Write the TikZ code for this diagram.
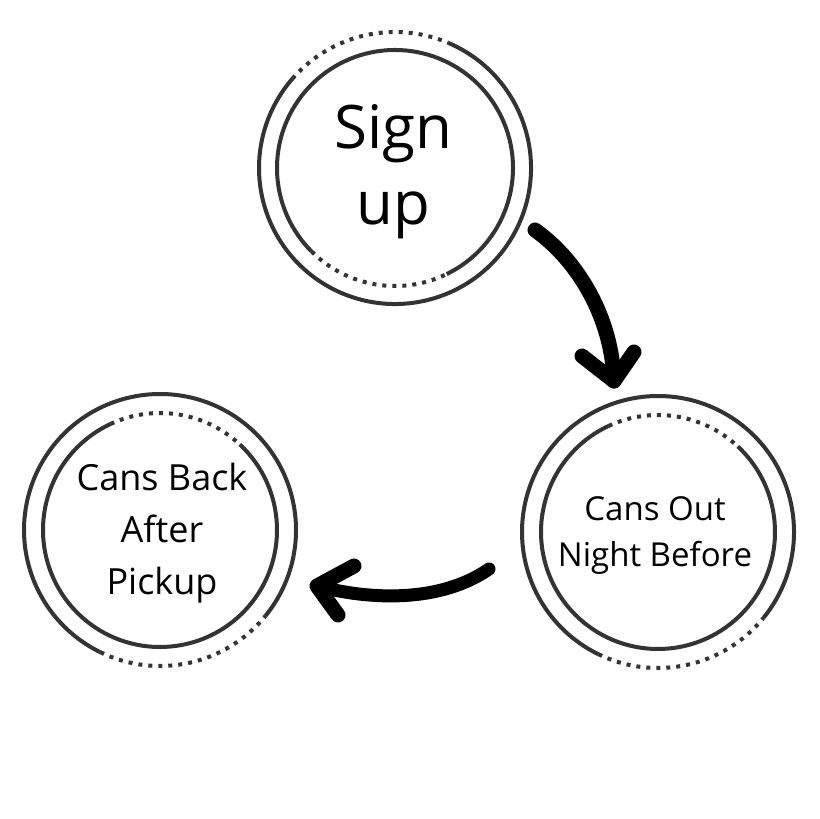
\documentclass[tikz,border=0pt]{standalone}
\usepackage{fontspec}
\setmainfont{Open Sans}
\begin{document}
\begin{tikzpicture}[x=1pt,y=1pt,
  ring/.style={line width=4pt,color=black!80},
  dots/.style={line width=4pt,color=black!80,dash pattern=on 4pt off 6pt},
  arr/.style={line width=15pt,line cap=round,line join=round},
  lbl/.style={align=center}]
\useasboundingbox (0,0) rectangle (819,-819);
% Sign up
\coordinate (A) at (395,-168);
\draw[ring] (A) ++(67:136) arc[start angle=67,end angle=-221,radius=136];
\draw[dots] (A) ++(139:136) arc[start angle=139,end angle=67,radius=136];
\draw[ring] (A) ++(-64:118) arc[start angle=-64,end angle=225,radius=118];
\draw[dots] (A) ++(225:118) arc[start angle=225,end angle=296,radius=118];
\node[lbl,font=\fontsize{60}{76}\selectfont] (a) at (393,-172) {Sign\\up};
% Cans Out
\coordinate (B) at (658,-532);
\draw[ring] (B) ++(-39:136) arc[start angle=-39,end angle=244,radius=136];
\draw[dots] (B) ++(244:136) arc[start angle=244,end angle=321,radius=136];
\draw[ring] (B) ++(47:117) arc[start angle=47,end angle=-245,radius=117];
\draw[dots] (B) ++(115:117) arc[start angle=115,end angle=47,radius=117];
\node[lbl,font=\fontsize{33}{46}\selectfont] (b) at (655,-535) {Cans Out\\Night Before};
% Cans Back
\coordinate (C) at (160,-530);
\draw[ring] (C) ++(-39:136) arc[start angle=-39,end angle=244,radius=136];
\draw[dots] (C) ++(244:136) arc[start angle=244,end angle=321,radius=136];
\draw[ring] (C) ++(47:117) arc[start angle=47,end angle=-245,radius=117];
\draw[dots] (C) ++(115:117) arc[start angle=115,end angle=47,radius=117];
\node[lbl,font=\fontsize{36}{52}\selectfont] (c) at (162,-533) {Cans Back\\After\\Pickup};
% arrows
\coordinate (s1) at (535,-230);
\coordinate (t1) at (614,-381);
\draw[arr] (s1) .. controls (580,-262) and (612,-320) .. (t1);
\draw[arr] (582,-356) -- (t1) -- (634,-352);
\coordinate (s2) at (489,-569);
\coordinate (t2) at (317,-586);
\draw[arr,line width=13pt] (s2) .. controls (440,-603) and (370,-600) .. (t2);
\draw[arr] (354,-566) -- (t2) -- (338,-615);
\end{tikzpicture}
\end{document}
